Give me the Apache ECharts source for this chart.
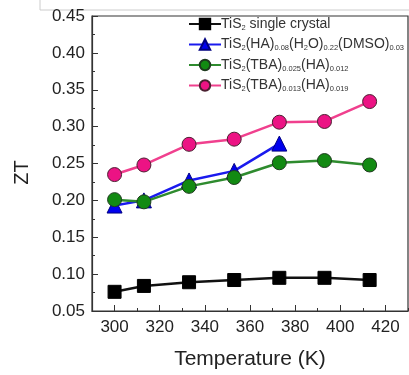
<!DOCTYPE html>
<html>
<head>
<meta charset="utf-8">
<script src="https://cdn.jsdelivr.net/npm/echarts@6/dist/echarts.min.js"></script>
<style>
  html, body { margin: 0; padding: 0; background: #fff; }
  #chart { width: 409px; height: 375px; }
</style>
</head>
<body>
<div id="chart"></div>
<script>
const temps = [300, 313, 333, 353, 373, 393, 413];
const ztSingle = [0.076, 0.084, 0.089, 0.092, 0.095, 0.095, 0.092];
const ztHaDmso = [0.193, 0.200, 0.227, 0.240, 0.277];
const ztTba025 = [0.201, 0.198, 0.219, 0.231, 0.251, 0.254, 0.248];
const ztTba013 = [0.235, 0.248, 0.276, 0.283, 0.306, 0.307, 0.334];
const xMajorTicks = [300, 320, 340, 360, 380, 400, 420];

const names = ['single', 'hadmso', 'tba025', 'tba013'];
const legendText = {
    single: 'TiS{s|2} single crystal',
    hadmso: 'TiS{s|2}(HA){s|0.08}(H{s|2}O){s|0.22}(DMSO){s|0.03}',
    tba025: 'TiS{s|2}(TBA){s|0.025}(HA){s|0.012}',
    tba013: 'TiS{s|2}(TBA){s|0.013}(HA){s|0.019}',
};

const pairs = (ys) => ys.map((y, i) => [temps[i], y]);

const chart = echarts.init(document.getElementById('chart'));
const axisColor = '#333';
const font = 'Liberation Sans, Arial, sans-serif';

chart.setOption({
    animation: false,
    graphic: [
        {type: 'polyline', shape: {points: [[40, 0], [40, 10], [409, 10]]}, style: {stroke: '#ccc', fill: null, lineWidth: 1}},
    ],
    grid: {
        left: 92,
        top: 16,
        right: 1,
        bottom: 63,
        show: true,
        borderColor: axisColor,
        borderWidth: 1.2,
    },
    legend: {
        data: names,
        orient: 'vertical',
        left: 183,
        top: 12,
        itemWidth: 32,
        itemHeight: 13,
        itemGap: 6,
        formatter: (n) => legendText[n],
        textStyle: {
            fontFamily: font,
            fontSize: 14,
            color: '#333',
            padding: [0, 0, 0, -5],
            rich: {
                s: {fontFamily: font, fontSize: 7.5, color: '#333', padding: [7, 0, 0, 0]},
            },
        },
    },
    xAxis: [
        {
            type: 'value',
            min: 290,
            max: 430,
            interval: 10,
            splitLine: {show: false},
            axisLine: {lineStyle: {color: axisColor, width: 1.2}},
            axisTick: {inside: true, length: 3, lineStyle: {color: axisColor}},
            axisLabel: {
                customValues: xMajorTicks,
                fontFamily: font,
                fontSize: 17,
                color: '#222',
                margin: 8,
            },
            name: 'Temperature (K)',
            nameLocation: 'middle',
            nameGap: 38,
            nameTextStyle: {fontFamily: font, fontSize: 21, color: '#222'},
        },
        {
            type: 'value',
            position: 'bottom',
            min: 290,
            max: 430,
            splitLine: {show: false},
            axisLine: {show: false},
            axisTick: {inside: true, length: 6, customValues: xMajorTicks, lineStyle: {color: axisColor}},
            axisLabel: {show: false},
        },
    ],
    yAxis: {
        type: 'value',
        min: 0.05,
        max: 0.45,
        interval: 0.05,
        splitLine: {show: false},
        axisLine: {show: true, lineStyle: {color: axisColor, width: 1.2}},
        axisTick: {inside: true, length: 6, lineStyle: {color: axisColor}},
        minorTick: {show: true, splitNumber: 2, length: 3, lineStyle: {color: axisColor}},
        axisLabel: {
            formatter: (v) => v.toFixed(2),
            fontFamily: font,
            fontSize: 17,
            color: '#222',
            margin: 7,
        },
        name: 'ZT',
        nameLocation: 'middle',
        nameGap: 60,
        nameRotate: 90,
        nameTextStyle: {fontFamily: font, fontSize: 20, color: '#222', padding: [0, 0, 0, -18]},
    },
    series: [
        {
            name: 'single',
            type: 'line',
            data: pairs(ztSingle),
            symbol: 'rect',
            symbolSize: 13,
            lineStyle: {color: '#111', width: 2.5},
            itemStyle: {color: '#000', borderColor: '#000', borderWidth: 1},
        },
        {
            name: 'hadmso',
            type: 'line',
            data: pairs(ztHaDmso),
            symbol: 'triangle',
            symbolSize: 15,
            lineStyle: {color: '#1a1aee', width: 2.5},
            itemStyle: {color: '#0000ee', borderColor: '#000080', borderWidth: 1},
        },
        {
            name: 'tba025',
            type: 'line',
            data: pairs(ztTba025),
            symbol: 'circle',
            symbolSize: 14,
            lineStyle: {color: '#2e8b2e', width: 2.5},
            itemStyle: {color: '#128a12', borderColor: '#1e3a1e', borderWidth: 1},
        },
        {
            name: 'tba013',
            type: 'line',
            data: pairs(ztTba013),
            symbol: 'circle',
            symbolSize: 14,
            lineStyle: {color: '#f0408e', width: 2.5},
            itemStyle: {color: '#ec1384', borderColor: '#4a2030', borderWidth: 1},
        },
    ],
});
</script>
</body>
</html>
